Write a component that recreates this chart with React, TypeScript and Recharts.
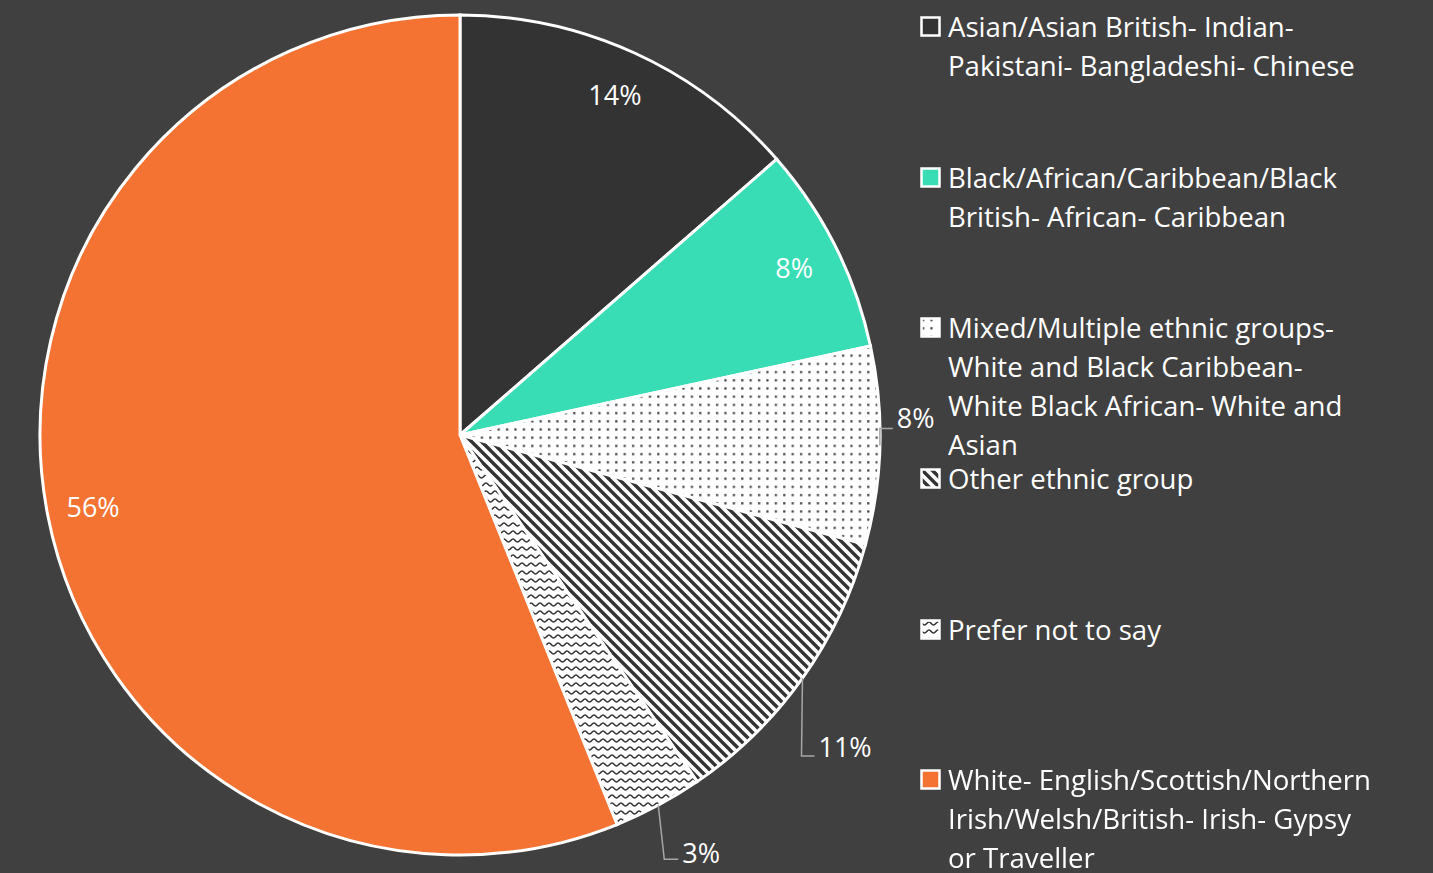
import React from 'react';
import { PieChart, Pie, Cell, Legend } from 'recharts';

const categories = [
  'Asian/Asian British- Indian- Pakistani- Bangladeshi- Chinese',
  'Black/African/Caribbean/Black British- African- Caribbean',
  'Mixed/Multiple ethnic groups- White and Black Caribbean- White Black African- White and Asian',
  'Other ethnic group',
  'Prefer not to say',
  'White- English/Scottish/Northern Irish/Welsh/British- Irish- Gypsy or Traveller',
];

const legendLines = [
  ['Asian/Asian British- Indian-', 'Pakistani- Bangladeshi- Chinese'],
  ['Black/African/Caribbean/Black', 'British- African- Caribbean'],
  ['Mixed/Multiple ethnic groups-', 'White and Black Caribbean-', 'White Black African- White and', 'Asian'],
  ['Other ethnic group'],
  ['Prefer not to say'],
  ['White- English/Scottish/Northern', 'Irish/Welsh/British- Irish- Gypsy', 'or Traveller'],
];

const values = [13.6, 8.0, 7.6, 11.25, 3.45, 56.1];

const colors = ['#333333', '#38DDB5', 'url(#pDots)', 'url(#pStripes)', 'url(#pWaves)', '#F47232'];

const insideLabels = [true, true, false, false, false, true];

// leader-line offsets for outside labels (relative to slice edge point)
const outsideOffsets: Record<number, { bx: number; by: number; hx: number; ty: number }> = {
  2: { bx: 0, by: -17, hx: 13, ty: -11 },
  3: { bx: -1, by: 78, hx: 13, ty: -10 },
  4: { bx: 6, by: 54, hx: 14, ty: -7 },
};

const data = categories.map((name, i) => ({ name, value: values[i] }));

const RAD = Math.PI / 180;
const FONT = '"Open Sans", sans-serif';
const DARK = '#333333';

const renderLabel = (props: any) => {
  const { cx, cy, midAngle, outerRadius, percent, index } = props;
  const text = `${Math.round(percent * 100)}%`;
  const cos = Math.cos(-midAngle * RAD);
  const sin = Math.sin(-midAngle * RAD);
  if (insideLabels[index]) {
    const r = outerRadius * 0.89;
    return (
      <text
        key={`l${index}`}
        x={cx + r * cos}
        y={cy + r * sin}
        fill="#ffffff"
        textAnchor="middle"
        dominantBaseline="central"
        fontSize={27}
        fontFamily={FONT}
      >
        {text}
      </text>
    );
  }
  const o = outsideOffsets[index];
  const ex = cx + outerRadius * cos;
  const ey = cy + outerRadius * sin;
  const bx = ex + o.bx;
  const by = ey + o.by;
  const hx = bx + o.hx;
  return (
    <g key={`l${index}`}>
      <path d={`M${ex},${ey} L${bx},${by} L${hx},${by}`} stroke="#A6A6A6" strokeWidth={1.5} fill="none" />
      <text
        x={hx + 4}
        y={by + o.ty}
        fill="#ffffff"
        textAnchor="start"
        dominantBaseline="central"
        fontSize={27}
        fontFamily={FONT}
      >
        {text}
      </text>
    </g>
  );
};

const LegendContent = () => (
  <div style={{ fontFamily: FONT, fontSize: 27.6, color: '#ffffff', lineHeight: '39px' }}>
    {legendLines.map((lines, i) => (
      <div key={i} style={{ position: 'relative', height: 150.7 }}>
        <svg width={22} height={22} style={{ position: 'absolute', left: 1, top: 9 }}>
          <rect x={1.5} y={1.5} width={18} height={18} fill={colors[i]} stroke="#ffffff" strokeWidth={2.5} />
        </svg>
        <div style={{ position: 'absolute', left: 29, top: 0, whiteSpace: 'nowrap' }}>
          {lines.map((l, j) => (
            <div key={j}>{l}</div>
          ))}
        </div>
      </div>
    ))}
  </div>
);

export default function App() {
  return (
    <div style={{ position: 'fixed', left: 0, top: 0, width: 1433, height: 873, background: '#404040' }}>
      <PieChart width={1433} height={873} margin={{ top: 0, right: 0, bottom: 0, left: 0 }}>
        <defs>
          <pattern id="pDots" patternUnits="userSpaceOnUse" width={8.4} height={8.2}>
            <rect width={8.4} height={8.2} fill="#ffffff" />
            <rect x={2} y={2} width={2.2} height={2.2} fill="#404040" />
          </pattern>
          <pattern id="pStripes" patternUnits="userSpaceOnUse" width={10} height={10}>
            <rect width={10} height={10} fill="#ffffff" />
            <path d="M-2,-2 L12,12 M-2,8 L2,12 M8,-2 L12,2" stroke={DARK} strokeWidth={3.4} />
          </pattern>
          <pattern id="pWaves" patternUnits="userSpaceOnUse" width={9} height={8}>
            <rect width={9} height={8} fill="#ffffff" />
            <path d="M0,3 C2,3 2.5,6 4.5,6 C6.5,6 7,3 9,3" stroke={DARK} strokeWidth={1.6} fill="none" />
          </pattern>
        </defs>
        <Pie
          data={data}
          dataKey="value"
          nameKey="name"
          cx={460}
          cy={435}
          outerRadius={420}
          startAngle={90}
          endAngle={-270}
          stroke="#ffffff"
          strokeWidth={3}
          label={renderLabel}
          labelLine={false}
          isAnimationActive={false}
        >
          {data.map((d, i) => (
            <Cell key={d.name} fill={colors[i]} />
          ))}
        </Pie>
        <Legend
          layout="vertical"
          align="right"
          verticalAlign="top"
          content={<LegendContent />}
          wrapperStyle={{ position: 'absolute', left: 919, top: 7, width: 510, right: 'auto', bottom: 'auto' }}
        />
      </PieChart>
    </div>
  );
}
